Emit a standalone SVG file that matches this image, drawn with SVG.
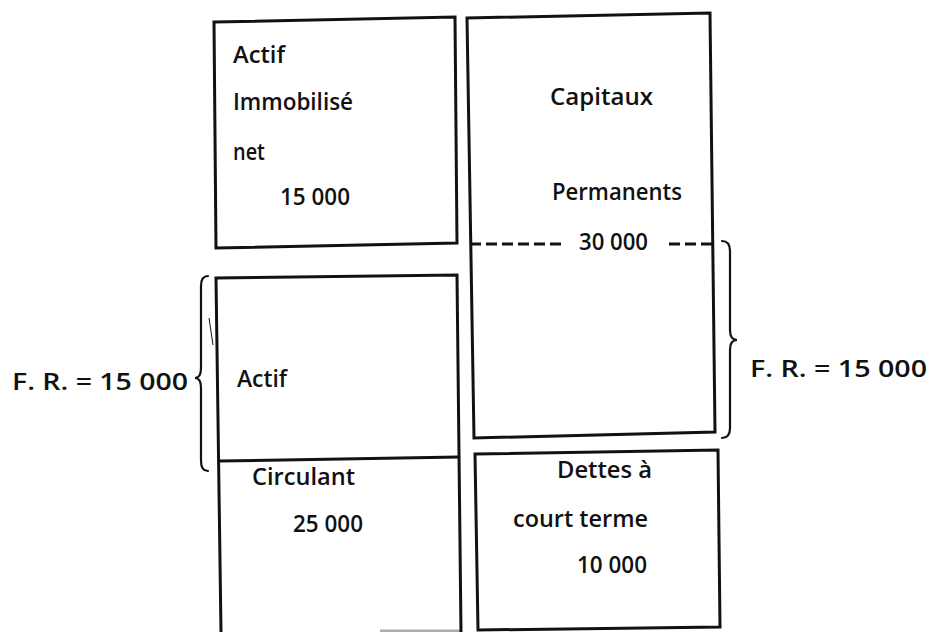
<svg xmlns="http://www.w3.org/2000/svg" width="929" height="632" viewBox="0 0 929 632">
  <style>
    .box { fill: none; stroke: #111; stroke-width: 3; stroke-linejoin: miter; }
    .rule { fill: none; stroke: #111; stroke-width: 3; }
    .dash { fill: none; stroke: #111; stroke-width: 3; stroke-dasharray: 11 5; }
    .brace { fill: none; stroke: #111; stroke-width: 2.2; stroke-linecap: round; }
    .t { font-family: "Open Sans", "DejaVu Sans", sans-serif; font-size: 22.5px; font-weight: 600; fill: #111; }
  </style>

  <!-- Actif immobilisé net -->
  <g id="actif-immobilise">
    <polygon class="box" points="214,22 455,17 457,243 216,248"/>
    <text class="t" x="233" y="63" textLength="52" lengthAdjust="spacingAndGlyphs">Actif</text>
    <text class="t" x="233" y="110" textLength="120" lengthAdjust="spacingAndGlyphs">Immobilisé</text>
    <text class="t" x="233" y="160" textLength="32" lengthAdjust="spacingAndGlyphs">net</text>
    <text class="t" x="280" y="205" textLength="70" lengthAdjust="spacingAndGlyphs">15 000</text>
  </g>

  <!-- Capitaux permanents -->
  <g id="capitaux-permanents">
    <polygon class="box" points="467,18 710,13 715,432 474,438"/>
    <text class="t" x="550" y="105" textLength="103" lengthAdjust="spacingAndGlyphs">Capitaux</text>
    <text class="t" x="552" y="200" textLength="130" lengthAdjust="spacingAndGlyphs">Permanents</text>
    <text class="t" x="579" y="250" textLength="69" lengthAdjust="spacingAndGlyphs">30 000</text>
  </g>

  <!-- Actif circulant -->
  <g id="actif-circulant">
    <polyline class="box" points="221,632 216,278 457,275 461,632"/>
    <line class="rule" x1="219" y1="461" x2="459" y2="457"/>
    <line class="rule" x1="380" y1="631" x2="461" y2="631" stroke-opacity="0.35"/>
    <text class="t" x="237" y="387" textLength="50" lengthAdjust="spacingAndGlyphs">Actif</text>
    <text class="t" x="252" y="485" textLength="103" lengthAdjust="spacingAndGlyphs">Circulant</text>
    <text class="t" x="293" y="532" textLength="70" lengthAdjust="spacingAndGlyphs">25 000</text>
  </g>

  <!-- Dettes à court terme -->
  <g id="dettes-court-terme">
    <polygon class="box" points="475,454 718,450 720,627 478,630"/>
    <text class="t" x="557" y="478" textLength="95" lengthAdjust="spacingAndGlyphs">Dettes à</text>
    <text class="t" x="513" y="527" textLength="135" lengthAdjust="spacingAndGlyphs">court terme</text>
    <text class="t" x="577" y="573" textLength="70" lengthAdjust="spacingAndGlyphs">10 000</text>
  </g>

  <!-- Fonds de roulement brackets and limit line -->
  <g id="connectors">
    <line class="dash" x1="470" y1="244" x2="566" y2="244"/>
    <line class="dash" x1="669" y1="244" x2="712" y2="244"/>
    <path class="brace" d="M 722 241 Q 730 241 730 251 L 730 330 Q 730 340 737 340 Q 730 340 730 350 L 730 428 Q 730 438 722 438"/>
    <path class="brace" d="M 208 276 Q 201 276 201 286 L 201 368 Q 201 378 195 378 Q 201 378 201 388 L 201 461 Q 201 471 208 471"/>
    <line x1="209" y1="318" x2="213" y2="345" stroke="#111" stroke-width="1"/>
  </g>

  <g id="fr-left">
    <text class="t" x="12" y="390" textLength="176" lengthAdjust="spacingAndGlyphs">F. R. = 15 000</text>
  </g>
  <g id="fr-right">
    <text class="t" x="750" y="377" textLength="177" lengthAdjust="spacingAndGlyphs">F. R. = 15 000</text>
  </g>
</svg>
